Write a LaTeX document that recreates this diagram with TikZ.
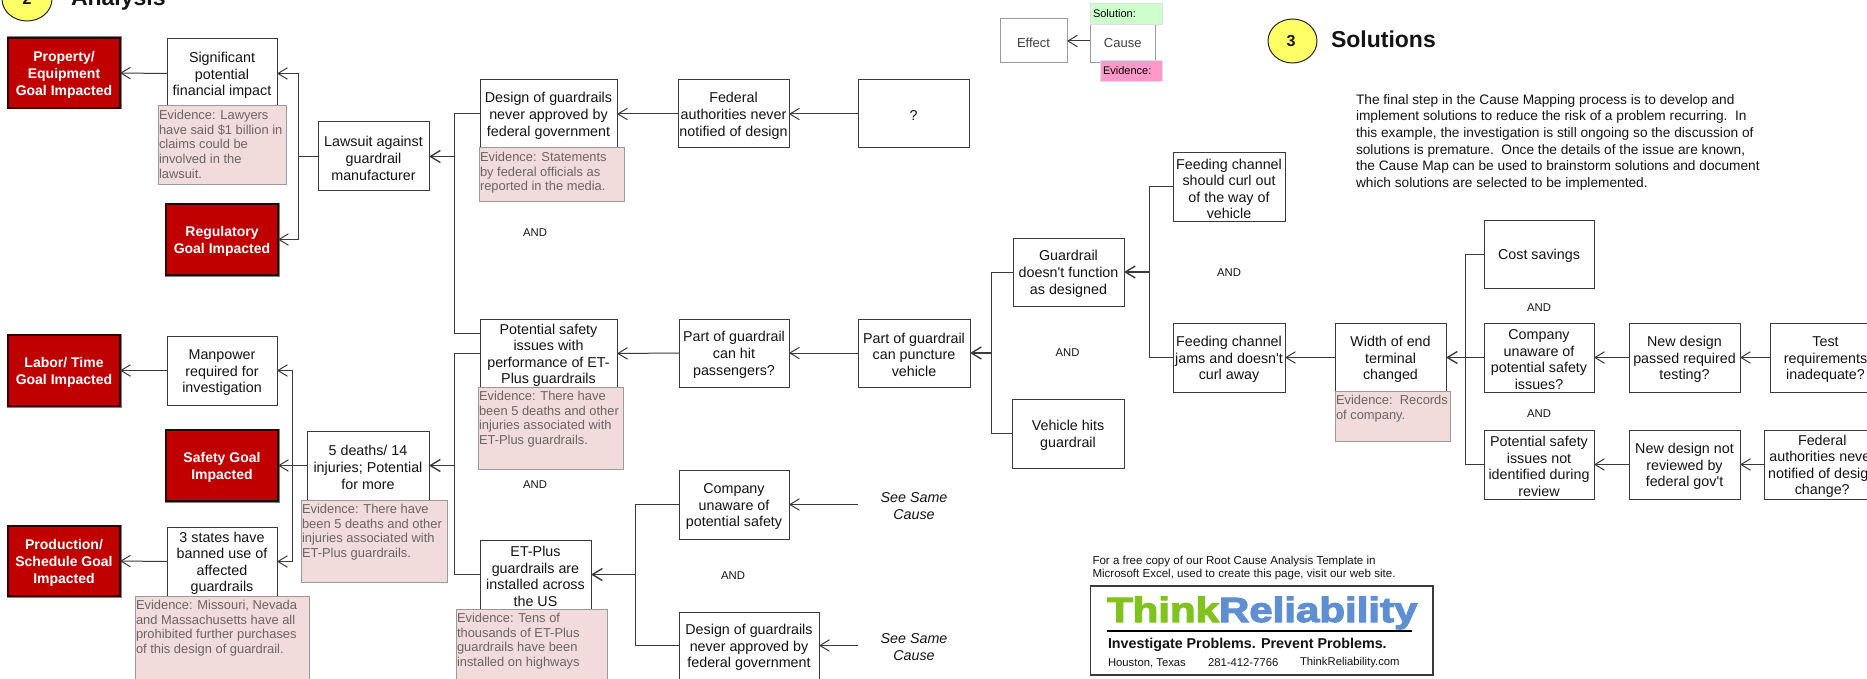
\documentclass[tikz,border=0pt]{standalone}
\usepackage{fontspec}
\usetikzlibrary{arrows.meta}
\newfontfamily\lib{Liberation Sans}
\newfontfamily\logof{Liberation Sans}[BoldFeatures={FakeBold=3}]
\definecolor{linec}{HTML}{3A3A3A}
\definecolor{goalred}{HTML}{C00000}
\definecolor{evfill}{HTML}{F2DCDB}
\definecolor{evline}{HTML}{9A9A9A}
\definecolor{evtextc}{HTML}{6A6464}
\definecolor{hlyellow}{HTML}{FFFF66}
\definecolor{thinkgreen}{HTML}{7FC31C}
\definecolor{relblue}{HTML}{5F8FD2}
\definecolor{solgreen}{HTML}{CCFFCC}
\definecolor{evpink}{HTML}{FF99CC}
\tikzset{
  base/.style={inner sep=0pt,outer sep=0pt,align=center,text=black!92,font=\lib\fontsize{14.3}{16.6}\selectfont},
  cbox/.style={base,draw=linec,line width=1pt,fill=white},
  goal/.style={base,fill=goalred,draw=black!75!goalred,line width=1.5pt,text=white,
    font=\lib\bfseries\fontsize{14}{16.6}\selectfont,
    preaction={draw=black!50,line width=3pt}},
  evbox/.style={inner sep=0pt,outer sep=0pt,draw=evline,line width=1pt,fill=evfill},
  evtext/.style={inner sep=0pt,outer sep=0pt,align=left,text=evtextc,font=\lib\fontsize{12.9}{14.8}\selectfont},
  andlbl/.style={base,font=\lib\fontsize{11.3}{13}\selectfont},
  seecause/.style={base,font=\lib\itshape\fontsize{14.3}{17}\selectfont},
  wire/.style={draw=linec,line width=1pt},
  arr/.style={wire,-{Straight Barb[length=9.5pt,width=11.5pt,line width=1pt]}},
  arrb/.style={wire,line width=1.2pt,-{Straight Barb[length=10pt,width=12pt,line width=1.4pt]}},
  badge/.style={draw=black!85,line width=1pt,fill=hlyellow,ellipse,inner sep=0pt,outer sep=0pt},
  head/.style={base,anchor=base west,font=\lib\bfseries\fontsize{23}{26}\selectfont},
  legbox/.style={base,draw=black!40,line width=1pt,fill=white,text=black!75,font=\lib\fontsize{13}{15}\selectfont},
  legtag/.style={base,draw=black!12,line width=.8pt,font=\lib\fontsize{11}{13}\selectfont,text=black},
  smalltxt/.style={base,align=left,anchor=north west,font=\lib\fontsize{11.55}{13}\selectfont},
  para/.style={base,align=left,anchor=north west,font=\lib\fontsize{13.7}{16.55}\selectfont},
}
\usetikzlibrary{shapes.geometric}
\newcommand\bx[7][cbox]{\node[#1,minimum width={(#5)*1pt-(#3)*1pt},minimum height={(#6)*1pt-(#4)*1pt}] (#2) at ({(#3+#5)/2},{(#4+#6)/2}) {\rule{0pt}{14pt}#7};}
\newcommand\evi[6]{\node[evbox,minimum width={(#4)*1pt-(#2)*1pt},minimum height={(#5)*1pt-(#3)*1pt}] (#1) at ({(#2+#4)/2},{(#3+#5)/2}) {};
  \node[evtext,anchor=north west] (#1t) at ([xshift=1pt,yshift=-4pt]#1.north west) {#6};}
\begin{document}
\begin{tikzpicture}[x=1pt,y=-1pt]
\useasboundingbox (0,0) rectangle (1867,679);
\clip (0,0) rectangle (1867,679);
\fill[white] (0,0) rectangle (1867,679);
% headings
\node[badge,minimum width=50pt,minimum height=44pt] (b2) at (27,-1) {};
\node[base,font=\lib\bfseries\fontsize{16}{18}\selectfont] (b2t) at (27,-1) {2};
\node[head] (h2) at (71,6) {Analysis};
\node[badge,minimum width=49pt,minimum height=44pt] (b3) at (1292.5,41) {};
\node[base,font=\lib\bfseries\fontsize{16}{18}\selectfont] (b3t) at (1291,41) {3};
\node[head] (h3) at (1331,47.5) {Solutions};
\node[para] (ptext) at (1356,94.5) {The final step in the Cause Mapping process is to develop and\\implement solutions to reduce the risk of a problem recurring.\ \ In\\this example, the investigation is still ongoing so the discussion of\\solutions is premature.\ \ Once the details of the issue are known,\\the Cause Map can be used to brainstorm solutions and document\\which solutions are selected to be implemented.};
% legend
\bx[legbox]{effect}{1000}{19}{1067}{63}{Effect}
\bx[legbox]{cause}{1090}{19}{1155.5}{63}{Cause}
\bx[legtag,fill=solgreen,align=left]{soln}{1090}{3}{1162}{24}{\raisebox{2.5pt}{\makebox[66pt][l]{Solution:}}}
\bx[legtag,fill=evpink,align=left]{evid}{1100}{60}{1162}{81}{\raisebox{2.5pt}{\makebox[56pt][l]{Evidence:}}}
\draw[arr] (cause.west) -- (effect.east);
% goals
\bx[goal]{gprop}{8}{38}{120}{108}{Property/\\Equipment\\Goal Impacted}
\bx[goal]{greg}{166}{204}{278}{275}{Regulatory\\Goal Impacted}
\bx[goal]{glab}{8}{335}{120}{406}{Labor/ Time\\Goal Impacted}
\bx[goal]{gsafe}{166}{430}{278}{501}{Safety Goal\\Impacted}
\bx[goal]{gprod}{8}{526}{120}{596}{Production/\\Schedule Goal\\Impacted}
% boxes
\bx{sig}{167}{39}{277}{108}{Significant\\potential\\financial impact}
\bx{law}{318}{122}{429}{191}{Lawsuit against\\guardrail\\manufacturer}
\bx{des}{480}{80}{617}{148}{Design of guardrails\\never approved by\\federal government}
\bx{fed}{678}{80}{789}{148}{Federal\\authorities never\\notified of design}
\bx{qm}{858}{80}{969}{148}{?}
\bx{man}{167}{336}{277}{405}{Manpower\\required for\\investigation}
\bx{deaths}{307}{431}{429}{500}{5 deaths/ 14\\injuries; Potential\\for more}
\bx{states}{167}{527}{277}{596}{3 states have\\banned use of\\affected\\guardrails}
\bx{pot}{480}{319}{617}{388}{Potential safety\\issues with\\performance of ET-\\Plus guardrails}
\bx{et}{480}{540}{591}{609}{ET-Plus\\guardrails are\\installed across\\the US}
\bx{hit}{679}{319}{789}{387}{Part of guardrail\\can hit\\passengers?}
\bx{punct}{858}{319}{970}{387}{Part of guardrail\\can puncture\\vehicle}
\bx{comp}{679}{470}{789}{539}{Company\\unaware of\\potential safety}
\bx{des2}{679}{612}{819}{679}{Design of guardrails\\never approved by\\federal government}
\bx{func}{1013}{238}{1124}{306}{Guardrail\\doesn't function\\as designed}
\bx{veh}{1012}{399}{1124}{468}{Vehicle hits\\guardrail}
\bx{curl}{1173}{153}{1285}{221}{Feeding channel\\should curl out\\of the way of\\vehicle}
\bx{jam}{1173}{323}{1285}{392}{Feeding channel\\jams and doesn't\\curl away}
\bx{width}{1335}{323}{1446}{392}{Width of end\\terminal\\changed}
\bx{cost}{1484}{220}{1594}{288}{Cost savings}
\bx{unaw}{1484}{323}{1594}{392}{Company\\unaware of\\potential safety\\issues?}
\bx{notid}{1484}{430}{1594}{499}{Potential safety\\issues not\\identified during\\review}
\bx{passd}{1629}{323}{1740}{392}{New design\\passed required\\testing?}
\bx{notrev}{1629}{430}{1740}{499}{New design not\\reviewed by\\federal gov't}
\bx{test}{1770}{323}{1881}{392}{Test\\requirements\\inadequate?}
\bx{fed2}{1764.5}{430}{1880}{499}{Federal\\authorities never\\notified of design\\change?}
% labels
\node[andlbl] (a1) at (535,232.5) {AND};
\node[andlbl] (a2) at (535,485) {AND};
\node[andlbl] (a3) at (733,576) {AND};
\node[andlbl] (a4) at (1067.5,353) {AND};
\node[andlbl] (a5) at (1229,273) {AND};
\node[andlbl] (a6) at (1539,308) {AND};
\node[andlbl] (a7) at (1539,414) {AND};
\node[seecause] (see1) at (914,506) {See Same\\Cause};
\node[seecause] (see2) at (914,647) {See Same\\Cause};
% junctions
\coordinate (j1) at (298,156.5);
\coordinate (j2) at (454,156.5);
\coordinate (j3) at (292,465.5);
\coordinate (j4) at (454,465.5);
\coordinate (j5) at (635,574.5);
\coordinate (j6) at (991.5,353);
\coordinate (j7) at (1149,272);
\coordinate (j8) at (1465,357.5);
\coordinate (ps) at ([yshift=20pt]pot.west);
\coordinate (seeR1) at (858,504.5);
\coordinate (seeR2) at (858,645.5);
% connectors
\draw[arr] (sig.west) -- (gprop.east);
\draw[wire] (law.west) -- (j1);
\draw[arr] (j1) |- (sig.east);
\draw[arr] (j1) |- (greg.east);
\draw[arrb] (j2) -- (law.east);
\draw[wire] (des.west) -| (j2);
\draw[wire] (ps) -| (j2);
\draw[arr] (fed.west) -- (des.east);
\draw[arr] (qm.west) -- (fed.east);
\draw[arr] (man.west) -- (glab.east);
\draw[arr] (deaths.west) -- (gsafe.east);
\draw[arr] (j3) |- (man.east);
\draw[arr] (j3) |- (states.east);
\draw[arr] (states.west) -- (gprod.east);
\draw[arrb] (j4) -- (deaths.east);
\draw[wire] (pot.west) -| (j4);
\draw[wire] (et.west) -| (j4);
\draw[arr] (hit.west) -- (pot.east);
\draw[arr] (punct.west) -- (hit.east);
\draw[arrb] (j5) -- (et.east);
\draw[wire] (comp.west) -| (j5);
\draw[wire] (des2.west) -| (j5);
\draw[arr] (seeR1) -- (comp.east);
\draw[arr] (seeR2) -- (des2.east);
\draw[arrb] (j6) -- (punct.east);
\draw[wire] (func.west) -| (j6);
\draw[wire] (veh.west) -| (j6);
\draw[arrb] (j7) -- (func.east);
\draw[wire] (curl.west) -| (j7);
\draw[wire] (jam.west) -| (j7);
\draw[arr] (width.west) -- (jam.east);
\draw[arrb] (j8) -- (width.east);
\draw[wire] (cost.west) -| (j8);
\draw[wire] (unaw.west) -- (j8);
\draw[wire] (notid.west) -| (j8);
\draw[arr] (passd.west) -- (unaw.east);
\draw[arr] (test.west) -- (passd.east);
\draw[arr] (notrev.west) -- (notid.east);
\draw[arr] (fed2.west) -- (notrev.east);
% evidence
\evi{e1}{158}{106}{286}{185}{Evidence: Lawyers\\have said \$1 billion in\\claims could be\\involved in the\\lawsuit.}
\evi{e2}{479}{148}{624}{201}{Evidence: Statements\\by federal officials as\\reported in the media.}
\evi{e3}{478}{387}{623}{469}{Evidence: There have\\been 5 deaths and other\\injuries associated with\\ET-Plus guardrails.}
\evi{e4}{301}{500}{447}{582}{Evidence: There have\\been 5 deaths and other\\injuries associated with\\ET-Plus guardrails.}
\evi{e5}{135}{596}{309}{690}{Evidence: Missouri, Nevada\\and Massachusetts have all\\prohibited further purchases\\of this design of guardrail.}
\evi{e6}{456}{609}{607}{690}{Evidence: Tens of\\thousands of ET-Plus\\guardrails have been\\installed on highways}
\evi{e7}{1335}{391}{1450}{441}{Evidence:\ \ Records\\of company.}
% footer
\node[smalltxt] (ftxt) at (1092.5,556.5) {For a free copy of our Root Cause Analysis Template in\\Microsoft Excel, used to create this page, visit our web site.};
\bx[base,draw=linec,line width=1.2pt,fill=white]{logo}{1090.5}{586}{1433}{675}{}
\node[base,anchor=base west,text=thinkgreen,font=\logof\bfseries\fontsize{35}{38}\selectfont] (think) at (1107,622) {\scalebox{1.2}[1]{Think}};
\node[base,anchor=base west,text=relblue,font=\logof\bfseries\fontsize{35}{38}\selectfont] (rel) at (think.base east) {\scalebox{1.2}[1]{Reliability}};
\coordinate (ruleL) at (1107,631);
\coordinate (ruleR) at (1412,631);
\draw[black,line width=1.6pt] (ruleL) -- (ruleR);
\node[base,anchor=west,font=\lib\bfseries\fontsize{14.3}{16}\selectfont] (inv) at (1108,645) {Investigate Problems. Prevent Problems.};
\node[base,anchor=west,font=\lib\fontsize{11.3}{13}\selectfont] (hou) at (1108,663) {Houston, Texas};
\node[base,anchor=west,font=\lib\fontsize{11.3}{13}\selectfont] (tel) at (1208,663) {281-412-7766};
\node[base,anchor=west,font=\lib\fontsize{11.3}{13}\selectfont] (web) at (1300,663) {ThinkReliability.com};
\end{tikzpicture}
\end{document}
